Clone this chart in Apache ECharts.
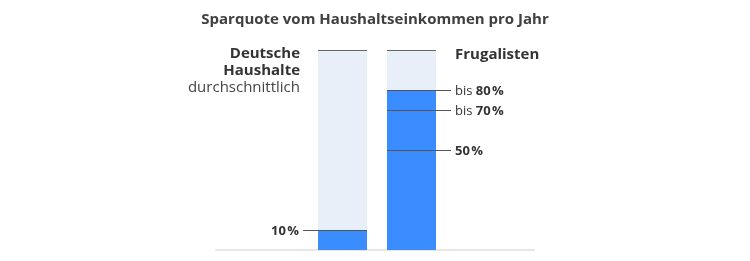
<!DOCTYPE html>
<html>
<head>
<meta charset="utf-8">
<script src="https://cdn.jsdelivr.net/npm/echarts@6/dist/echarts.min.js"></script>
<style>html,body{margin:0;padding:0;background:#fff}#c{width:750px;height:261px}</style>
</head>
<body>
<div id="c"></div>
<script>
const titleText = 'Sparquote vom Haushaltseinkommen pro Jahr';
const categories = ['Deutsche Haushalte', 'Frugalisten'];
const headerTexts = ['{h|Deutsche}\n{h|Haushalte}\n{hn|durchschnittlich}', '{h|Frugalisten}'];
const savingsRate = [10, 80];
const maxRate = [100, 100];
const markerCat = [0, 1, 1, 1];
const markerValue = [10, 80, 70, 50];
const markerText = ['{b|10\u200A%}', 'bis {b|80\u200A%}', 'bis {b|70\u200A%}', '{b|50\u200A%}'];

const FONT = 'Open Sans';
const BAR_W = 49;
const EXT = 15;

const chart = echarts.init(document.getElementById('c'), null, {renderer: 'canvas'});

const richStyle = {
  b: {fontFamily: FONT, fontWeight: 'bold', fontSize: 13, fill: '#333', color: '#333', lineHeight: 16},
  n: {fontFamily: FONT, fontWeight: 'normal', fontSize: 13, fill: '#444', color: '#444', lineHeight: 16},
  h: {fontFamily: FONT, fontWeight: 'bold', fontSize: 15, fill: '#333', color: '#333', lineHeight: 17},
  hn: {fontFamily: FONT, fontWeight: 'normal', fontSize: 15, fill: '#444', color: '#444', lineHeight: 17}
};

const topData = categories.map((c, i) => [i, maxRate[i], headerTexts[i]]);
const markerData = markerCat.map((c, i) => [c, markerValue[i], markerText[i]]);

chart.setOption({
  animation: false,
  title: {
    text: titleText, left: 'center', top: 7,
    textStyle: {fontFamily: FONT, fontSize: 15, fontWeight: 'bold', color: '#404040'}
  },
  grid: [
    {left: 216, right: 216, top: 50, height: 200},
    {left: 308, width: 138, top: 50, height: 200}
  ],
  xAxis: [
    {gridIndex: 0, type: 'category', data: [''], axisLine: {show: true, lineStyle: {color: '#e6e6e6', width: 2}}, axisTick: {show: false}, axisLabel: {show: false}, z: 0},
    {gridIndex: 1, type: 'category', data: categories, axisLine: {show: false}, axisTick: {show: false}, axisLabel: {show: false}}
  ],
  yAxis: [
    {gridIndex: 0, type: 'value', min: 0, max: 100, show: false},
    {gridIndex: 1, type: 'value', min: 0, max: 100, show: false}
  ],
  series: [
    {
      type: 'bar', xAxisIndex: 1, yAxisIndex: 1, data: maxRate, barWidth: BAR_W,
      itemStyle: {color: '#e8eff9'}, barGap: '-100%', z: 1, silent: true
    },
    {
      type: 'bar', xAxisIndex: 1, yAxisIndex: 1, data: savingsRate, barWidth: BAR_W,
      itemStyle: {color: '#3a8cff'}, z: 2, silent: true
    },
    {
      type: 'custom', xAxisIndex: 1, yAxisIndex: 1, data: topData, z: 5, silent: true,
      renderItem: function (params, api) {
        const cat = api.value(0);
        const p = api.coord([cat, api.value(1)]);
        const y = Math.round(p[1]) + 0.5;
        const x1 = p[0] - BAR_W / 2, x2 = p[0] + BAR_W / 2;
        const txt = topData[params.dataIndex][2];
        const children = [
          {type: 'line', shape: {x1: x1, y1: y, x2: x2, y2: y}, style: {stroke: '#666', lineWidth: 1}}
        ];
        if (cat === 0) {
          children.push({type: 'text', style: {text: txt, x: x1 - 18, y: p[1] - 5, align: 'right', verticalAlign: 'top', rich: richStyle}});
        } else {
          children.push({type: 'text', style: {text: txt, x: x2 + 19, y: p[1] + 5, align: 'left', verticalAlign: 'middle', rich: richStyle}});
        }
        return {type: 'group', children: children};
      }
    },
    {
      type: 'custom', xAxisIndex: 1, yAxisIndex: 1, data: markerData, z: 5, silent: true,
      renderItem: function (params, api) {
        const cat = api.value(0);
        const p = api.coord([cat, api.value(1)]);
        const y = Math.round(p[1]) + 0.5;
        const txt = markerData[params.dataIndex][2];
        let x1, x2, tx, align;
        if (cat === 0) {
          x1 = p[0] - BAR_W / 2 - EXT; x2 = p[0] + BAR_W / 2; tx = x1 - 4; align = 'right';
        } else {
          x1 = p[0] - BAR_W / 2; x2 = p[0] + BAR_W / 2 + EXT; tx = x2 + 4; align = 'left';
        }
        return {type: 'group', children: [
          {type: 'line', shape: {x1: x1, y1: y, x2: x2, y2: y}, style: {stroke: '#555', lineWidth: 1}},
          {type: 'text', style: {text: txt, x: tx, y: y + 1, align: align, verticalAlign: 'middle',
            fontFamily: FONT, fontSize: 13, fill: '#333', rich: richStyle}}
        ]};
      }
    }
  ]
});
</script>
</body>
</html>
